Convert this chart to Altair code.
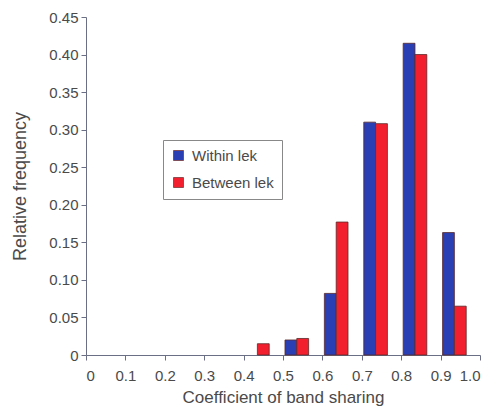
import altair as alt
import pandas as pd

# Data
bins = [0.4, 0.5, 0.6, 0.7, 0.8, 0.9]
within_lek = [0.0, 0.020, 0.082, 0.310, 0.415, 0.163]
between_lek = [0.015, 0.022, 0.177, 0.308, 0.400, 0.065]
series_names = ["Within lek", "Between lek"]
colors = ["#2b3fb4", "#f2202e"]
x_ticks = [0, 0.1, 0.2, 0.3, 0.4, 0.5, 0.6, 0.7, 0.8, 0.9, 1.0]
y_ticks = [0, 0.05, 0.10, 0.15, 0.20, 0.25, 0.30, 0.35, 0.40, 0.45]

offsets = {"Within lek": (0.005, 0.035), "Between lek": (0.035, 0.065)}
rows = []
for name, vals in zip(series_names, [within_lek, between_lek]):
    for b, v in zip(bins, vals):
        rows.append({"series": name, "bin": b, "value": v,
                     "x0": b + offsets[name][0], "x1": b + offsets[name][1]})
df = pd.DataFrame(rows)

font = "Liberation Sans"
txt = "#4a4a4a"
axcol = "#6a6f85"

bars = alt.Chart(df).transform_filter("datum.value > 0").mark_rect(
    stroke="#5a2a2a", strokeWidth=0.8).encode(
    x=alt.X("x0:Q", scale=alt.Scale(domain=[0, 1.0], nice=False),
            axis=alt.Axis(values=x_ticks, title="Coefficient of band sharing",
                          labelExpr="datum.value == 0 ? '0' : format(datum.value, '.1f')",
                          grid=False, tickSize=5, labelPadding=8, titlePadding=6,
                          titleFontSize=17,
                          domainColor=axcol, tickColor=axcol)),
    x2="x1:Q",
    y=alt.Y("value:Q", scale=alt.Scale(domain=[0, 0.45], nice=False),
            axis=alt.Axis(values=y_ticks, title="Relative frequency",
                          labelExpr="datum.value == 0 ? '0' : format(datum.value, '.2f')",
                          grid=False, tickSize=5, labelPadding=3, titlePadding=19,
                          titleFontSize=18,
                          domainColor=axcol, tickColor=axcol)),
    y2=alt.datum(0),
    color=alt.Color("series:N", scale=alt.Scale(domain=series_names, range=colors),
                    legend=alt.Legend(title=None, orient="none", legendX=77, legendY=123,
                                      symbolType="square", symbolSize=100,
                                      symbolStrokeColor="#7a3a3a", symbolStrokeWidth=0.8,
                                      labelFontSize=15, labelFont=font, labelColor=txt,
                                      labelOffset=6,
                                      strokeColor="#888888", fillColor="white",
                                      padding=8, rowPadding=11)),
)

chart = bars.properties(
    width=394, height=338,
    autosize=alt.AutoSizeParams(type="none"),
    padding={"left": 78, "top": 9, "right": 4, "bottom": 54},
).configure_view(stroke=None).configure_axis(
    labelFont=font, titleFont=font, labelFontSize=15,
    labelColor=txt, titleColor=txt, titleFontWeight="normal",
)

chart.save("out.html", embed_options={"renderer": "svg", "actions": False})
